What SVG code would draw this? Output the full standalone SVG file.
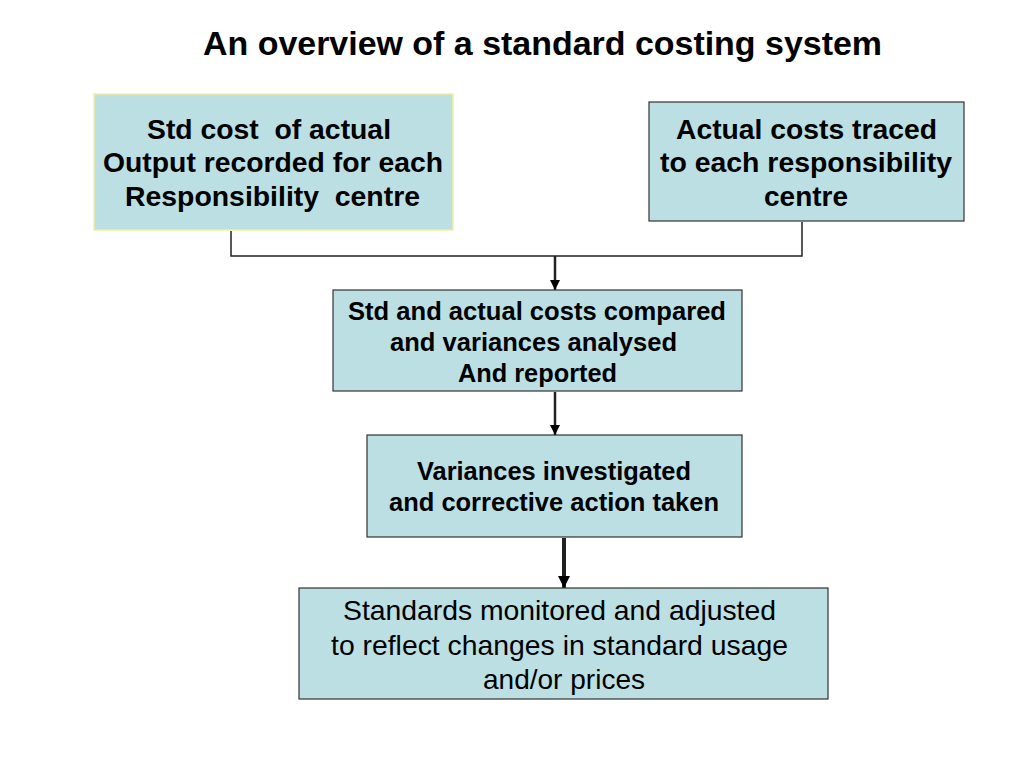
<svg xmlns="http://www.w3.org/2000/svg" width="1024" height="768" viewBox="0 0 1024 768">
<defs>
<style>
.box{fill:#bbdfe3;stroke:#333;stroke-width:1.2}
.t{font-family:"Liberation Sans",Arial,sans-serif;text-anchor:middle;fill:#000;white-space:pre}
.b{font-weight:bold}
.l{font-size:28.5px}
.m{font-size:25.7px}
.con{fill:none;stroke:#222}
</style>
<marker id="ah" viewBox="0 0 10 10" refX="10" refY="5" markerWidth="4" markerHeight="4" orient="auto" markerUnits="strokeWidth">
<path d="M0,0 L10,5 L0,10 z" fill="#000"/>
</marker>
<marker id="ah2" viewBox="0 0 10 10" refX="10" refY="5" markerWidth="3.5" markerHeight="3" orient="auto" markerUnits="strokeWidth">
<path d="M0,0 L10,5 L0,10 z" fill="#000"/>
</marker>
</defs>
<rect width="1024" height="768" fill="#fff"/>
<text class="t b" x="542.5" y="55" font-size="34" textLength="679" lengthAdjust="spacingAndGlyphs">An overview of a standard costing system</text>
<g id="connectors">
<polyline class="con" style="stroke-width:1.5" points="231,231 231,256 802,256 802,222"/>
<line class="con" style="stroke-width:2.5" x1="555" y1="256" x2="555" y2="290" marker-end="url(#ah)"/>
<line class="con" style="stroke-width:2.5" x1="555" y1="392" x2="555" y2="435" marker-end="url(#ah)"/>
<line class="con" style="stroke-width:4" x1="564" y1="538" x2="564" y2="588" marker-end="url(#ah2)"/>
</g>
<g id="node1">
<rect class="box" x="94" y="94" width="359" height="136" style="stroke:#f2f0a0;stroke-width:1.5"/>
<text class="t b l" x="269" y="139" textLength="244" lengthAdjust="spacingAndGlyphs">Std cost  of actual</text>
<text class="t b l" x="273" y="172" textLength="340" lengthAdjust="spacingAndGlyphs">Output recorded for each</text>
<text class="t b l" x="272.5" y="206" textLength="295" lengthAdjust="spacingAndGlyphs">Responsibility  centre</text>
</g>
<g id="node2">
<rect class="box" x="649" y="102" width="315" height="119"/>
<text class="t b l" x="806.5" y="139" textLength="261" lengthAdjust="spacingAndGlyphs">Actual costs traced</text>
<text class="t b l" x="806" y="172" textLength="292" lengthAdjust="spacingAndGlyphs">to each responsibility</text>
<text class="t b l" x="806" y="206" textLength="84" lengthAdjust="spacingAndGlyphs">centre</text>
</g>
<g id="node3">
<rect class="box" x="333" y="290" width="409" height="101"/>
<text class="t b m" x="537" y="320" textLength="378" lengthAdjust="spacingAndGlyphs">Std and actual costs compared</text>
<text class="t b m" x="533.5" y="351" textLength="287" lengthAdjust="spacingAndGlyphs">and variances analysed</text>
<text class="t b m" x="537.5" y="382" textLength="159" lengthAdjust="spacingAndGlyphs">And reported</text>
</g>
<g id="node4">
<rect class="box" x="367" y="435" width="375" height="102"/>
<text class="t b m" x="554" y="480" textLength="274" lengthAdjust="spacingAndGlyphs">Variances investigated</text>
<text class="t b m" x="554" y="511" textLength="330" lengthAdjust="spacingAndGlyphs">and corrective action taken</text>
</g>
<g id="node5">
<rect class="box" x="299" y="588" width="529" height="111"/>
<text class="t l" x="559.5" y="620" textLength="433" lengthAdjust="spacingAndGlyphs">Standards monitored and adjusted</text>
<text class="t l" x="559.5" y="655" textLength="457" lengthAdjust="spacingAndGlyphs">to reflect changes in standard usage</text>
<text class="t l" x="564" y="689" textLength="162" lengthAdjust="spacingAndGlyphs">and/or prices</text>
</g>
</svg>
